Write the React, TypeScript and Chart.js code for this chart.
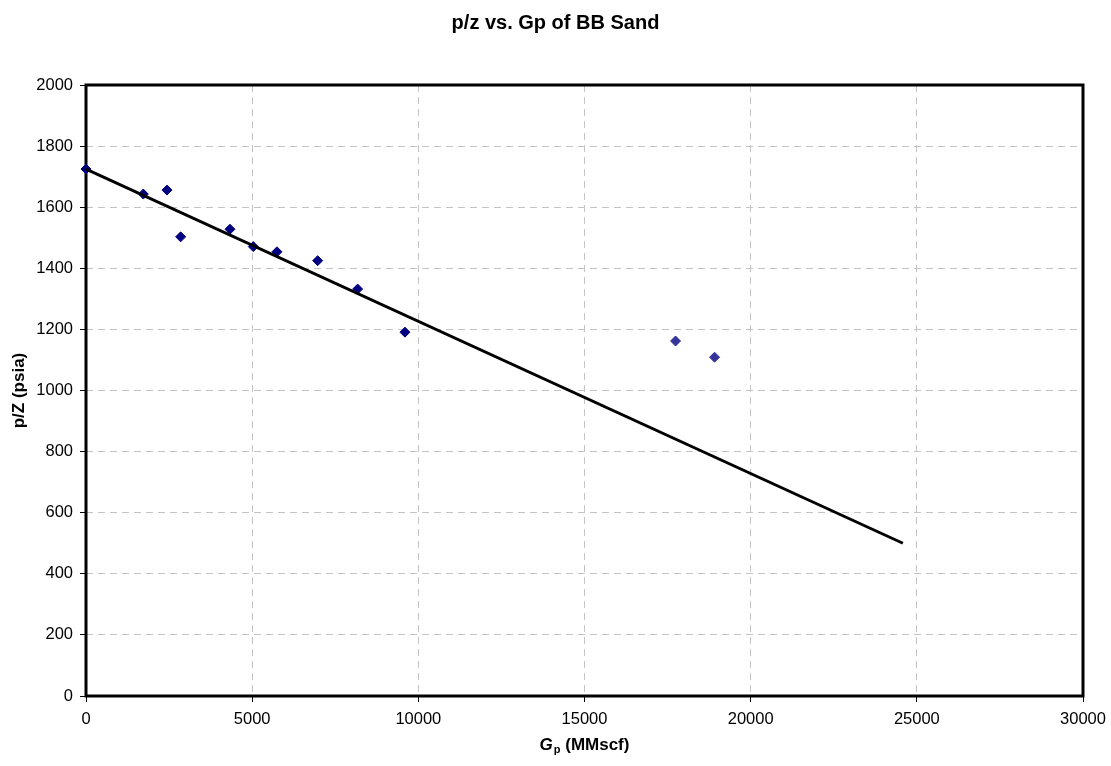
import React, { useEffect, useRef } from "react";
import { Chart, registerables } from "chart.js";

Chart.register(...registerables);

// Cumulative gas production (MMscf) and p/z (psia) for the BB Sand
const gpMeasured = [0, 1724, 2437, 2848, 4332, 5034, 5746, 6970, 8173, 9597];
const pzMeasured = [1725, 1643, 1656, 1503, 1528, 1471, 1454, 1425, 1332, 1191];

// Later points, shown in a lighter blue
const gpLate = [17740, 18914];
const pzLate = [1162, 1109];

// Straight-line fit of p/z versus Gp
const gpFit = [0, 24580];
const pzFit = [1725, 500];

const xTicks = [0, 5000, 10000, 15000, 20000, 25000, 30000];
const yTicks = [0, 200, 400, 600, 800, 1000, 1200, 1400, 1600, 1800, 2000];

const FONT = '"Liberation Sans", Arial, Helvetica, sans-serif';

const toPoints = (xs: number[], ys: number[]) => xs.map((x, i) => ({ x, y: ys[i] }));

export default function App() {
  const canvasRef = useRef<HTMLCanvasElement | null>(null);

  useEffect(() => {
    const canvas = canvasRef.current;
    if (!canvas) return;

    const frame = {
      id: "frame",
      beforeDatasetsDraw(chart: any) {
        const { ctx, chartArea: a } = chart;
        ctx.save();
        ctx.strokeStyle = "#000";
        ctx.lineWidth = 3;
        ctx.strokeRect(a.left, a.top, a.right - a.left, a.bottom - a.top);
        ctx.restore();
      },
    };

    const labels = {
      id: "labels",
      afterDraw(chart: any) {
        const { ctx, chartArea: a } = chart;
        ctx.save();
        ctx.fillStyle = "#000";

        // chart title
        ctx.font = `bold 20px ${FONT}`;
        ctx.textAlign = "center";
        ctx.textBaseline = "alphabetic";
        ctx.fillText("p/z vs. Gp of BB Sand", 555.5, 29);

        // x axis title: G (italic) with subscript p, then unit
        const mainFont = `bold 17px ${FONT}`;
        const italicFont = `italic bold 17px ${FONT}`;
        const subFont = `bold 11px ${FONT}`;
        ctx.textAlign = "left";
        ctx.font = italicFont;
        const wG = ctx.measureText("G").width;
        ctx.font = subFont;
        const wP = ctx.measureText("p").width;
        ctx.font = mainFont;
        const wU = ctx.measureText(" (MMscf)").width;
        const total = wG + 1 + wP + wU;
        let x = (a.left + a.right) / 2 - total / 2;
        const base = 750;
        ctx.font = italicFont;
        ctx.fillText("G", x, base);
        x += wG + 1;
        ctx.font = subFont;
        ctx.fillText("p", x, base + 3);
        x += wP;
        ctx.font = mainFont;
        ctx.fillText(" (MMscf)", x, base);

        // y axis title
        ctx.translate(24, (a.top + a.bottom) / 2);
        ctx.rotate(-Math.PI / 2);
        ctx.textAlign = "center";
        ctx.font = mainFont;
        ctx.fillText("p/Z (psia)", 0, 0);
        ctx.restore();
      },
    };

    const plain = (v: any) => String(v);

    const chart = new Chart(canvas, {
      type: "scatter",
      data: {
        datasets: [
          {
            type: "line",
            label: "Fit",
            data: toPoints(gpFit, pzFit),
            borderColor: "#000",
            borderWidth: 3,
            pointRadius: 0,
            fill: false,
            order: 0,
          } as any,
          {
            label: "p/z",
            data: toPoints(gpMeasured, pzMeasured),
            backgroundColor: "#000080",
            borderColor: "#000080",
            borderWidth: 1,
            pointStyle: "rectRot",
            pointRadius: 5,
            clip: false,
            order: 1,
          },
          {
            label: "p/z late",
            data: toPoints(gpLate, pzLate),
            backgroundColor: "#333399",
            borderColor: "#333399",
            borderWidth: 1,
            pointStyle: "rectRot",
            pointRadius: 5,
            clip: false,
            order: 1,
          },
        ],
      },
      options: {
        responsive: false,
        animation: false,
        layout: { padding: { top: 85, right: 28, bottom: 0, left: 0 } },
        plugins: {
          legend: { display: false },
          title: { display: false },
          tooltip: { enabled: false },
        },
        scales: {
          x: {
            type: "linear",
            min: xTicks[0],
            max: xTicks[xTicks.length - 1],
            afterBuildTicks: (s: any) => {
              s.ticks = xTicks.map((v) => ({ value: v }));
            },
            afterFit: (s: any) => {
              s.height = 70;
              s.paddingRight = 0;
              s.paddingLeft = 0;
            },
            grid: {
              color: "#c4c4c4",
              lineWidth: 1,
              tickColor: "#000",
              tickLength: 6,
              tickWidth: 1,
            },
            border: { display: false, dash: [7, 5] },
            ticks: {
              color: "#000",
              padding: 8,
              maxRotation: 0,
              callback: plain,
              font: { family: FONT, size: 16.5 },
            },
          },
          y: {
            type: "linear",
            min: yTicks[0],
            max: yTicks[yTicks.length - 1],
            afterBuildTicks: (s: any) => {
              s.ticks = yTicks.map((v) => ({ value: v }));
            },
            afterFit: (s: any) => {
              s.width = 86;
              s.paddingTop = 0;
              s.paddingBottom = 0;
            },
            grid: {
              color: "#c4c4c4",
              lineWidth: 1,
              tickColor: "#000",
              tickLength: 6,
              tickWidth: 1,
            },
            border: { display: false, dash: [7, 5] },
            ticks: {
              color: "#000",
              padding: 7,
              callback: plain,
              font: { family: FONT, size: 16.5 },
            },
          },
        },
      },
      plugins: [frame, labels],
    });

    return () => chart.destroy();
  }, []);

  return (
    <div style={{ position: "absolute", left: 0, top: 0, width: 1111, height: 766, background: "#fff" }}>
      <canvas ref={canvasRef} width={1111} height={766} style={{ display: "block" }} />
    </div>
  );
}
